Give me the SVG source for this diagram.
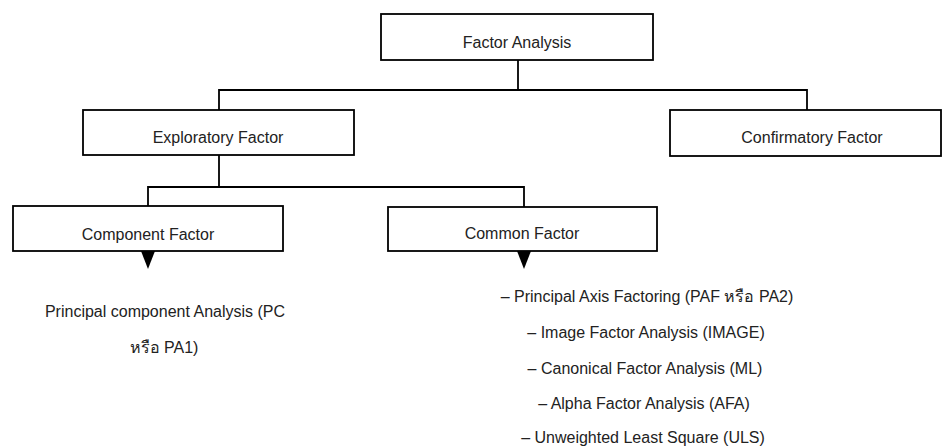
<svg xmlns="http://www.w3.org/2000/svg" width="943" height="448" viewBox="0 0 943 448">
  <style>
    .box { fill: #ffffff; stroke: #000000; stroke-width: 1.8; }
    .wire { fill: none; stroke: #000000; stroke-width: 1.8; }
    .head { fill: #000000; stroke: none; }
    .label { font-family: "Liberation Sans", "DejaVu Sans", "Noto Sans", sans-serif; font-size: 16px; fill: #222222; text-anchor: middle; }
  </style>
  <rect width="943" height="448" fill="#ffffff"/>

  <!-- tree connectors and downward arrowheads -->
  <g id="connectors">
    <path class="wire" d="M518,60 V90"/>
    <path class="wire" d="M219,110 V90 H807 V110"/>
    <path class="wire" d="M219,155 V187"/>
    <path class="wire" d="M148,206 V187 H524 V207"/>
    <path class="head" d="M141,251 H155 L148,269 Z"/>
    <path class="head" d="M517,251 H531 L524,269 Z"/>
  </g>

  <g id="factor-analysis">
    <rect class="box" x="381" y="14" width="272" height="46"/>
    <text class="label" x="517" y="48">Factor Analysis</text>
  </g>

  <g id="exploratory-factor">
    <rect class="box" x="83" y="110" width="271" height="45"/>
    <text class="label" x="218" y="143">Exploratory Factor</text>
  </g>

  <g id="confirmatory-factor">
    <rect class="box" x="670" y="110" width="271" height="46"/>
    <text class="label" x="812" y="143">Confirmatory Factor</text>
  </g>

  <g id="component-factor">
    <rect class="box" x="13" y="206" width="270" height="45"/>
    <text class="label" x="148" y="240">Component Factor</text>
  </g>

  <g id="common-factor">
    <rect class="box" x="388" y="207" width="269" height="44"/>
    <text class="label" x="522" y="239">Common Factor</text>
  </g>

  <g id="component-methods">
    <text class="label" x="165" y="317">Principal component Analysis (PC</text>
    <text class="label" x="164" y="353">หรือ PA1)</text>
  </g>

  <g id="common-methods">
    <text class="label" x="647" y="302">– Principal Axis Factoring (PAF หรือ PA2)</text>
    <text class="label" x="646" y="338">– Image Factor Analysis (IMAGE)</text>
    <text class="label" x="645" y="374">– Canonical Factor Analysis (ML)</text>
    <text class="label" x="644" y="409">– Alpha Factor Analysis (AFA)</text>
    <text class="label" x="643" y="443">– Unweighted Least Square (ULS)</text>
  </g>
</svg>
